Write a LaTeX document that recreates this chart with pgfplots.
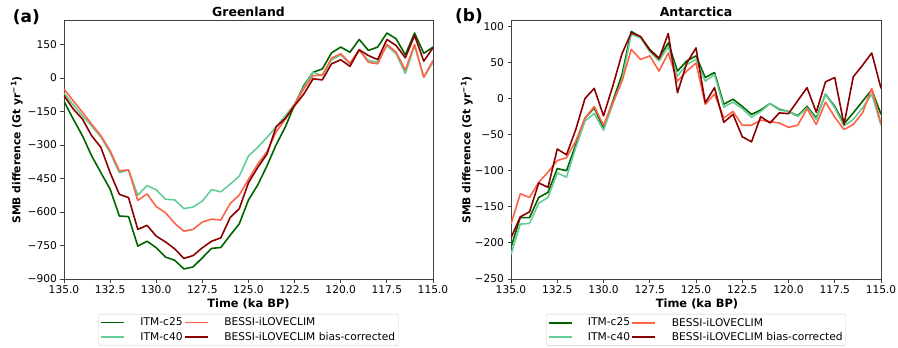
\documentclass[border=0pt]{standalone}
\usepackage{pgfplots}
\pgfplotsset{compat=1.18}
\usepackage{pgfplotstable}
\usepackage{fontspec}
\setmainfont{DejaVu Sans}
\definecolor{cA}{HTML}{006400}
\definecolor{cB}{RGB}{102,204,150}
\definecolor{cC}{HTML}{FF6347}
\definecolor{cD}{HTML}{8B0000}

\pgfplotstableread{
t c25 c40 bes bc
135.0 -105 -68 -50 -79
134.5 -184 -120 -102 -139
134.0 -259 -170 -154 -184
133.5 -349 -215 -207 -259
133.0 -424 -265 -259 -311
132.5 -498 -334 -326 -424
132.0 -618 -424 -416 -521
131.5 -621 -412 -412 -536
131.0 -753 -525 -548 -678
130.5 -731 -482 -519 -660
130.0 -760 -501 -576 -708
129.5 -802 -543 -603 -734
129.0 -816 -546 -651 -765
128.5 -855 -585 -686 -808
128.0 -846 -578 -678 -795
127.5 -805 -551 -645 -760
127.0 -763 -500 -632 -731
126.5 -759 -510 -636 -716
126.0 -705 -476 -563 -626
125.5 -653 -440 -524 -585
125.0 -546 -349 -454 -469
124.5 -479 -311 -386 -401
124.0 -394 -266 -331 -341
123.5 -299 -219 -241 -219
123.0 -219 -169 -184 -181
122.5 -120 -117 -117 -124
122.0 -34 -42 -49 -72
121.5 25 25 10 -4
121.0 40 10 13 -9
120.5 112 81 88 63
120.0 138 103 108 81
119.5 115 63 66 52
119.0 172 123 126 126
118.5 123 78 70 100
118.0 138 70 63 82
117.5 201 145 150 172
117.0 175 108 115 145
116.5 103 20 35 90
116.0 201 145 150 190
115.5 110 3 3 75
115.0 138 70 78 135
}\gre

\pgfplotstableread{
t c25 c40 bes bc
135.0 -206 -216 -174 -193
134.5 -165 -174 -132 -164
134.0 -165 -173 -137 -157
133.5 -137 -145 -116 -117
133.0 -130 -137 -102 -123
132.5 -97 -103 -86 -70
132.0 -100 -109 -82 -78
131.5 -64 -68 -59 -43
131.0 -27 -31 -27 0
130.5 -13 -21 -11 14
130.0 -41 -44 -37 -24
129.5 -4 -8 -6 17
129.0 33 26 24 62
128.5 93 89 68 91
128.0 85 84 54 86
127.5 68 65 59 67
127.0 56 52 38 55
126.5 77 72 63 90
126.0 38 31 24 8
125.5 52 47 38 49
125.0 59 54 49 70
124.5 29 24 -8 -6
124.0 36 33 6 15
123.5 -8 -12 -27 -33
123.0 -1 -5 -18 -22
122.5 -11 -14 -37 -53
122.0 -22 -26 -37 -60
121.5 -16 -18 -30 -25
121.0 -7 -7 -32 -34
120.5 -15 -16 -34 -20
120.0 -18 -18 -40 -21
119.5 -24 -25 -37 -3
119.0 -11 -13 -14 15
118.5 -27 -29 -36 -19
118.0 6 6 -5 23
117.5 -11 -13 -26 29
117.0 -35 -38 -43 -36
116.5 -20 -29 -36 30
116.0 -4 -13 -20 46
115.5 12 6 14 63
115.0 -22 -37 -35 14
}\ant

\pgfplotsset{
  myaxis/.style={
    scale only axis,
    x dir=reverse, xmin=115, xmax=135,
    xtick={115,117.5,120,122.5,125,127.5,130,132.5,135},
    xticklabels={115.0,117.5,120.0,122.5,125.0,127.5,130.0,132.5,135.0},
    axis line style={black!75, line width=0.8bp},
    every tick/.style={black!75, line width=0.8bp},
    tick align=outside, major tick length=3.5bp,
    xtick pos=bottom, ytick pos=left,
    tick label style={font=\fontsize{10.7}{12}\selectfont},
    legend columns=2,
    transpose legend,
    legend cell align=left,
    legend style={at={(0.5,-0.135)}, anchor=north,
      draw=black!20, rounded corners=2bp,
      inner xsep=1.5bp, inner ysep=1.5bp,
      font=\fontsize{10.7}{12}\selectfont,
      nodes={inner xsep=1.6bp, inner ysep=2.3bp},
      /tikz/every even column/.append style={column sep=0bp},
      /tikz/every odd column/.append style={column sep=14bp}},
  },
}

\begin{document}
\begin{tikzpicture}[x=1bp,y=1bp]
\useasboundingbox (0,0) rectangle (898,347);

\begin{axis}[myaxis, name=ga,
  at={(64bp,68bp)}, anchor=south west,
  width=369bp, height=258.3bp,
  ymin=-900, ymax=256,
  ytick={-900,-750,-600,-450,-300,-150,0,150},
  yticklabels={−900,−750,−600,−450,−300,−150,0,150},
  legend image code/.code={\draw[#1] (0bp,0bp) -- (23bp,0bp);}]
\addplot[cA, line width=1.6bp, line join=round, forget plot] table[x=t,y=c25] {\gre};
\addplot[cB, line width=1.6bp, line join=round, forget plot] table[x=t,y=c40] {\gre};
\addplot[cC, line width=1.6bp, line join=round, forget plot] table[x=t,y=bes] {\gre};
\addplot[cD, line width=1.6bp, line join=round, forget plot] table[x=t,y=bc] {\gre};
\addlegendimage{color=cA, line width=1.6bp}
\addlegendentry{ITM-c25}
\addlegendimage{color=cB, line width=1.6bp}
\addlegendentry{ITM-c40}
\addlegendimage{color=cC, line width=1.6bp}
\addlegendentry{BESSI-iLOVECLIM}
\addlegendimage{color=cD, line width=1.6bp}
\addlegendentry{BESSI-iLOVECLIM bias-corrected}
\end{axis}

\begin{axis}[myaxis, name=aa,
  at={(511bp,68bp)}, anchor=south west,
  width=370bp, height=259bp,
  ymin=-250, ymax=108.7,
  ytick={-250,-200,-150,-100,-50,0,50,100},
  yticklabels={−250,−200,−150,−100,−50,0,50,100},
  legend image code/.code={\draw[#1] (0bp,0bp) -- (23bp,0bp);}]
\addplot[cA, line width=1.6bp, line join=round, forget plot] table[x=t,y=c25] {\ant};
\addplot[cB, line width=1.6bp, line join=round, forget plot] table[x=t,y=c40] {\ant};
\addplot[cC, line width=1.6bp, line join=round, forget plot] table[x=t,y=bes] {\ant};
\addplot[cD, line width=1.6bp, line join=round, forget plot] table[x=t,y=bc] {\ant};
\addlegendimage{color=cA, line width=1.6bp}
\addlegendentry{ITM-c25}
\addlegendimage{color=cB, line width=1.6bp}
\addlegendentry{ITM-c40}
\addlegendimage{color=cC, line width=1.6bp}
\addlegendentry{BESSI-iLOVECLIM}
\addlegendimage{color=cD, line width=1.6bp}
\addlegendentry{BESSI-iLOVECLIM bias-corrected}
\end{axis}

% titles
\node[anchor=base, font=\bfseries\fontsize{12.5}{14}\selectfont] at (248.5,330.6) {Greenland};
\node[anchor=base, font=\bfseries\fontsize{12.5}{14}\selectfont] at (696,330.6) {Antarctica};
% panel labels
\node[anchor=west, inner sep=0, font=\bfseries\fontsize{17}{20}\selectfont] at (12.7,330.3) {(a)};
\node[anchor=west, inner sep=0, font=\bfseries\fontsize{17}{20}\selectfont] at (455,331.3) {(b)};
% y labels
\node[rotate=90, anchor=center, font=\bfseries\fontsize{10.8}{13}\selectfont] at (16.7,197) {SMB difference (Gt yr\textsuperscript{−1})};
\node[rotate=90, anchor=center, font=\bfseries\fontsize{10.8}{13}\selectfont] at (466.7,197) {SMB difference (Gt yr\textsuperscript{−1})};
% x labels
\node[anchor=center, font=\bfseries\fontsize{11.5}{13}\selectfont] at (248.5,43) {Time (ka BP)};
\node[anchor=center, font=\bfseries\fontsize{11.5}{13}\selectfont] at (697,43) {Time (ka BP)};
\end{tikzpicture}
\end{document}
